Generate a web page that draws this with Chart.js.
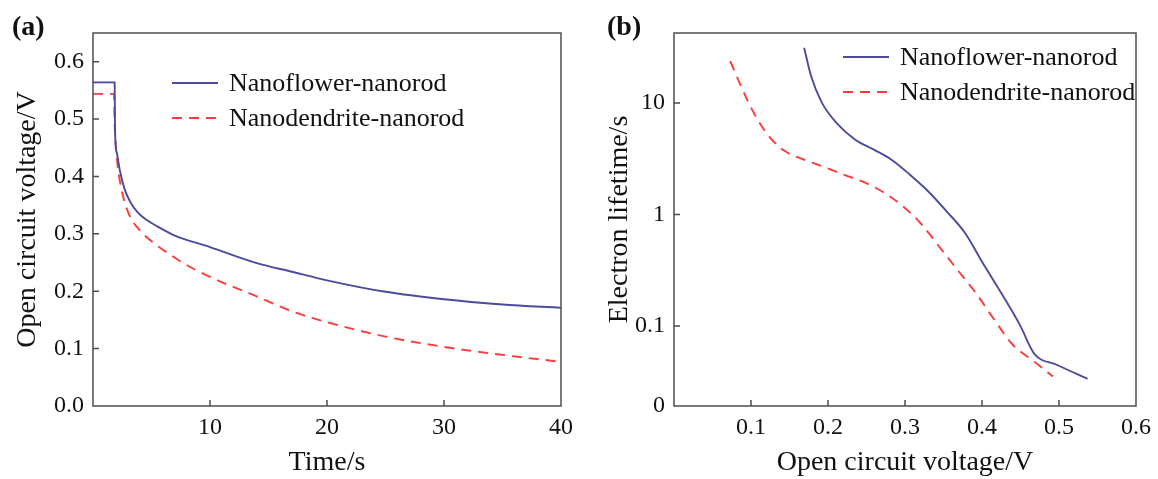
<!DOCTYPE html>
<html>
<head>
<meta charset="utf-8">
<script src="https://cdn.jsdelivr.net/npm/chart.js@4.4.1/dist/chart.umd.min.js"></script>
<style>
  html, body { margin: 0; padding: 0; background: #fff; }
  #wrap { position: relative; width: 1158px; height: 479px; }
  #wrap div { position: absolute; top: 0; height: 479px; }
  #boxA { left: 0; width: 580px; }
  #boxB { left: 580px; width: 578px; }
</style>
</head>
<body>
<div id="wrap">
  <div id="boxA"><canvas id="chartA"></canvas></div>
  <div id="boxB"><canvas id="chartB"></canvas></div>
</div>
<script>
"use strict";

// (a) open circuit voltage decay
var flowerTime = [0, 1.85, 1.88, 1.93, 2.05, 2.3, 2.7, 3.2, 3.8, 4.6, 5.5, 7, 10, 14, 17, 20, 25, 30, 35, 40];
var flowerVoc  = [0.564, 0.564, 0.49, 0.455, 0.44, 0.41, 0.378, 0.355, 0.338, 0.324, 0.313, 0.297, 0.277, 0.249, 0.234, 0.219, 0.199, 0.186, 0.177, 0.171];
var dendriteTime = [0, 1.8, 1.84, 1.93, 2.1, 2.4, 3, 4, 5.2, 6.5, 7.8, 10, 14, 17, 20, 25, 30, 35, 40];
var dendriteVoc  = [0.544, 0.544, 0.5, 0.46, 0.42, 0.381, 0.338, 0.306, 0.284, 0.265, 0.248, 0.225, 0.191, 0.165, 0.146, 0.121, 0.103, 0.089, 0.077];
var timeTicks = [10, 20, 30, 40];
var vocTicks = [0, 0.1, 0.2, 0.3, 0.4, 0.5, 0.6];

// (b) electron lifetime vs voltage
var flowerVocB = [0.169, 0.178, 0.192, 0.211, 0.235, 0.259, 0.282, 0.306, 0.33, 0.354, 0.378, 0.401, 0.425, 0.449, 0.468, 0.497, 0.537];
var flowerLifetime = [31.4, 17.5, 10.1, 6.66, 4.72, 3.84, 3.12, 2.29, 1.62, 1.07, 0.684, 0.368, 0.198, 0.103, 0.0564, 0.045, 0.0336];
var dendriteVocB = [0.073, 0.087, 0.099, 0.111, 0.125, 0.144, 0.168, 0.192, 0.22, 0.249, 0.273, 0.297, 0.32, 0.344, 0.368, 0.392, 0.416, 0.44, 0.468, 0.492];
var dendriteLifetime = [23.8, 14.2, 9.4, 6.66, 4.88, 3.71, 3.12, 2.72, 2.29, 1.92, 1.57, 1.19, 0.84, 0.52, 0.32, 0.198, 0.114, 0.068, 0.048, 0.0353];
var vocTicksB = [0.1, 0.2, 0.3, 0.4, 0.5, 0.6];
var lifetimeBottom = 0.0192;
var lifetimeTop = 42.5;
var lifetimeTicks = [lifetimeBottom, 0.1, 1, 10];

var seriesNames = ['Nanoflower-nanorod', 'Nanodendrite-nanorod'];
var flowerColor = '#4b4b9e';
var dendriteColor = '#ff3a3a';
var frameColor = '#4d4d4d';
var serif = '"Liberation Serif", "DejaVu Serif", serif';

function toPoints(xs, ys) {
  var pts = [];
  for (var i = 0; i < xs.length; ++i) {
    pts.push({ x: xs[i], y: ys[i] });
  }
  return pts;
}

function fixedTicks(values) {
  return function(scale) {
    scale.ticks = values.map(function(v) { return { value: v }; });
  };
}

// frame, inward tick marks, legend and panel letter
var decorPlugin = {
  id: 'decor',
  afterDraw: function(chart, args, opts) {
    var ctx = chart.ctx;
    var area = chart.chartArea;
    ctx.save();
    ctx.strokeStyle = frameColor;
    ctx.lineWidth = 1.5;
    ctx.strokeRect(area.left, area.top, area.right - area.left, area.bottom - area.top);

    var xs = chart.scales.x, ys = chart.scales.y;
    ctx.beginPath();
    xs.ticks.forEach(function(t) {
      var px = xs.getPixelForValue(t.value);
      if (px > area.left + 2 && px < area.right - 2) {
        ctx.moveTo(px, area.bottom);
        ctx.lineTo(px, area.bottom - 6);
      }
    });
    ys.ticks.forEach(function(t) {
      var py = ys.getPixelForValue(t.value);
      if (py > area.top + 2 && py < area.bottom - 2) {
        ctx.moveTo(area.left, py);
        ctx.lineTo(area.left + 6, py);
      }
    });
    ctx.stroke();

    // legend
    ctx.font = '26px ' + serif;
    ctx.textBaseline = 'middle';
    ctx.textAlign = 'left';
    chart.data.datasets.forEach(function(ds, i) {
      var y = opts.legendY + i * 35;
      ctx.strokeStyle = ds.borderColor;
      ctx.lineWidth = 1.8;
      ctx.setLineDash(ds.borderDash || []);
      ctx.beginPath();
      ctx.moveTo(opts.legendX, y);
      ctx.lineTo(opts.legendX + 46, y);
      ctx.stroke();
      ctx.setLineDash([]);
      ctx.fillStyle = '#111';
      ctx.fillText(ds.label, opts.legendX + 57, y + 1);
    });

    ctx.font = 'bold 28px ' + serif;
    ctx.fillStyle = '#111';
    ctx.fillText(opts.letter, opts.letterX, 28);
    ctx.restore();
  }
};

function lineSet(label, pts, color, dash) {
  return {
    label: label,
    data: pts,
    borderColor: color,
    borderWidth: 1.9,
    borderDash: dash,
    pointRadius: 0,
    fill: false,
    cubicInterpolationMode: 'monotone'
  };
}

function axisFont(size) {
  return { family: serif, size: size };
}

new Chart(document.getElementById('chartA'), {
  type: 'line',
  data: {
    datasets: [
      lineSet(seriesNames[0], toPoints(flowerTime, flowerVoc), flowerColor, []),
      lineSet(seriesNames[1], toPoints(dendriteTime, dendriteVoc), dendriteColor, [10, 7])
    ]
  },
  options: {
    responsive: true,
    maintainAspectRatio: false,
    animation: false,
    layout: { padding: { left: 0, right: 18, top: 33, bottom: 0 } },
    plugins: {
      legend: { display: false },
      tooltip: { enabled: false },
      decor: { legendX: 172, legendY: 83, letter: '(a)', letterX: 12 }
    },
    scales: {
      x: {
        type: 'linear', min: 0, max: 40,
        afterBuildTicks: fixedTicks(timeTicks),
        afterFit: function(s) { s.height = 73; },
        grid: { display: false, drawTicks: false },
        border: { display: false },
        ticks: { font: axisFont(24), color: '#111', padding: 7, maxRotation: 0 },
        title: { display: true, text: 'Time/s', font: axisFont(28), color: '#111', padding: { top: 0, bottom: 0 } }
      },
      y: {
        type: 'linear', min: 0, max: 0.65,
        afterBuildTicks: fixedTicks(vocTicks),
        afterFit: function(s) { s.width = 93; },
        grid: { display: false, drawTicks: false },
        border: { display: false },
        ticks: { font: axisFont(24), color: '#111', padding: 9, callback: function(v) { return v.toFixed(1); } },
        title: { display: true, text: 'Open circuit voltage/V', font: axisFont(28), color: '#111', padding: { top: 11, bottom: 0 } }
      }
    }
  },
  plugins: [decorPlugin]
});

new Chart(document.getElementById('chartB'), {
  type: 'line',
  data: {
    datasets: [
      lineSet(seriesNames[0], toPoints(flowerVocB, flowerLifetime), flowerColor, []),
      lineSet(seriesNames[1], toPoints(dendriteVocB, dendriteLifetime), dendriteColor, [10, 7])
    ]
  },
  options: {
    responsive: true,
    maintainAspectRatio: false,
    animation: false,
    layout: { padding: { left: 0, right: 16, top: 33, bottom: 0 } },
    plugins: {
      legend: { display: false },
      tooltip: { enabled: false },
      decor: { legendX: 263, legendY: 57, letter: '(b)', letterX: 27 }
    },
    scales: {
      x: {
        type: 'linear', min: 0, max: 0.6,
        afterBuildTicks: fixedTicks(vocTicksB),
        afterFit: function(s) { s.height = 73; },
        grid: { display: false, drawTicks: false },
        border: { display: false },
        ticks: { font: axisFont(24), color: '#111', padding: 7, maxRotation: 0, callback: function(v) { return v.toFixed(1); } },
        title: { display: true, text: 'Open circuit voltage/V', font: axisFont(28), color: '#111', padding: { top: 0, bottom: 0 } }
      },
      y: {
        type: 'logarithmic', min: lifetimeBottom, max: lifetimeTop,
        afterBuildTicks: fixedTicks(lifetimeTicks),
        afterFit: function(s) { s.width = 94; },
        grid: { display: false, drawTicks: false },
        border: { display: false },
        ticks: { font: axisFont(24), color: '#111', padding: 9, callback: function(v) { return v < 0.05 ? '0' : String(v); } },
        title: { display: true, text: 'Electron lifetime/s', font: axisFont(28), color: '#111', padding: { top: 23, bottom: 0 } }
      }
    }
  },
  plugins: [decorPlugin]
});
</script>
</body>
</html>
